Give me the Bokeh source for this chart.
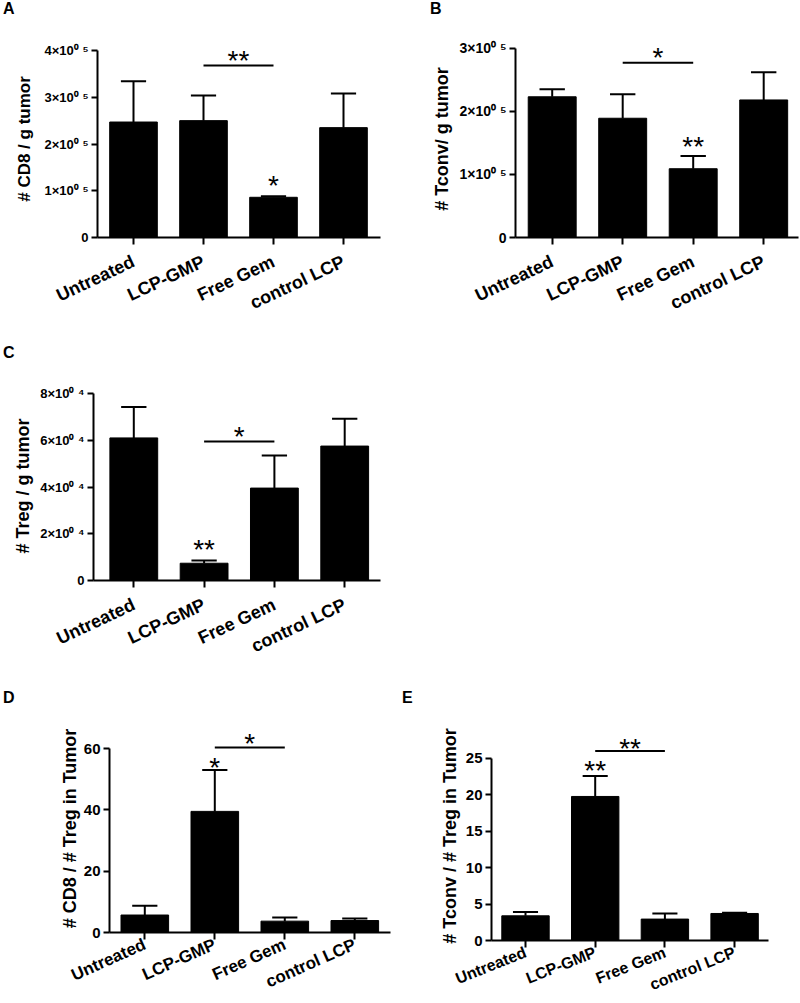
from bokeh.plotting import figure
from bokeh.models import FixedTicker, LabelSet, Range1d, ColumnDataSource, Div
from bokeh.layouts import column, row
from bokeh.embed import file_html
from bokeh.resources import INLINE
from bokeh.core.properties import value

# ---------------- data ----------------
categories = ["Untreated", "LCP-GMP", "Free Gem", "control LCP"]

cd8_mean = [2.47e5, 2.50e5, 0.86e5, 2.35e5]
cd8_sem = [0.87e5, 0.54e5, 0.02e5, 0.73e5]

tconv_mean = [2.23e5, 1.89e5, 1.09e5, 2.18e5]
tconv_sem = [0.12e5, 0.38e5, 0.20e5, 0.44e5]

treg_mean = [6.11e4, 0.74e4, 3.96e4, 5.76e4]
treg_sem = [1.32e4, 0.12e4, 1.40e4, 1.17e4]

cd8_treg_mean = [5.7, 39.5, 3.7, 3.9]
cd8_treg_sem = [3.0, 13.5, 1.2, 0.7]

tconv_treg_mean = [3.39, 19.78, 2.94, 3.71]
tconv_treg_sem = [0.54, 2.82, 0.77, 0.09]

ticks_A = [0, 100000, 200000, 300000, 400000]
labels_A = ["0", "1×10⁰ ⁵", "2×10⁰ ⁵", "3×10⁰ ⁵", "4×10⁰ ⁵"]
ticks_B = [0, 100000, 200000, 300000]
labels_B = ["0", "1×10⁰ ⁵", "2×10⁰ ⁵", "3×10⁰ ⁵"]
ticks_C = [0, 20000, 40000, 60000, 80000]
labels_C = ["0", "2×10⁰ ⁴", "4×10⁰ ⁴", "6×10⁰ ⁴", "8×10⁰ ⁴"]
ticks_D = [0, 20, 40, 60]
labels_D = ["0", "20", "40", "60"]
ticks_E = [0, 5, 10, 15, 20, 25]
labels_E = ["0", "5", "10", "15", "20", "25"]

# significance: bracket between groups (i, j) at height h with star text at th,
# plus a star text above a single group (grp) at gh
sig_A = dict(pair=(1, 2), h=3.68e5, txt="**", th=3.93e5, grp=2, gtxt="*", gh=1.26e5)
sig_B = dict(pair=(1, 2), h=2.77e5, txt="*", th=2.96e5, grp=2, gtxt="**", gh=1.56e5)
sig_C = dict(pair=(1, 2), h=5.96e4, txt="*", th=6.47e4, grp=1, gtxt="**", gh=1.63e4)
sig_D = dict(pair=(1, 2), h=60.3, txt="*", th=64.0, grp=1, gtxt="*", gh=56.2)
sig_E = dict(pair=(1, 2), h=26.03, txt="**", th=27.28, grp=1, gtxt="**", gh=24.23)

FONT = "Liberation Sans"
STAR_PX = 28          # asterisk font size
STAR_SHIFT = 7        # px: visual centre of "*" sits above the em middle


def letter_div(letter, width, height, pad_left, top):
    html = (f'<div style="margin:0;padding:0 0 0 {pad_left}px;position:relative;top:{top}px;'
            f'font-family:\'{FONT}\';font-weight:bold;font-size:16px;line-height:18px;'
            f'color:black">{letter}</div>')
    return Div(text=html, width=width, height=height, margin=0)


def panel(box, frame, x_first, x_step, top_val, ticks, tlabels,
          ylabel, means, sems, sig, tick_size, title_size, label_standoff,
          xlab_size, xlab_angle, xlab_standoff):
    bl, bt, br, bb = box                  # figure box (page px)
    fl, fr, ftop, zero, toptick = frame   # frame (page px)
    ppu = (zero - toptick) / top_val
    x_start = -(x_first - fl) / x_step
    x_end = x_start + (fr - fl) / x_step
    y_end = (zero - ftop) / ppu
    p = figure(width=br - bl, height=bb - bt,
               x_range=Range1d(x_start, x_end), y_range=Range1d(0, y_end),
               min_border_left=int(round(fl - bl)), min_border_right=int(round(br - fr)),
               min_border_top=int(round(ftop - bt)), min_border_bottom=int(round(bb - zero)),
               output_backend="svg", toolbar_location=None, margin=0)
    p.outline_line_color = None
    p.xgrid.visible = False
    p.ygrid.visible = False
    p.background_fill_color = "white"
    p.border_fill_color = "white"

    xs = list(range(len(categories)))
    upper = [m + s for m, s in zip(means, sems)]
    p.vbar(x=xs, top=means, bottom=0, width=0.68, fill_color="black", line_color="black")
    p.segment(x0=xs, y0=means, x1=xs, y1=upper, line_color="black", line_width=2)
    cap = 0.18
    p.segment(x0=[x - cap for x in xs], y0=upper, x1=[x + cap for x in xs], y1=upper,
              line_color="black", line_width=2)

    i, j = sig["pair"]
    p.segment(x0=[i], y0=[sig["h"]], x1=[j], y1=[sig["h"]], line_color="black", line_width=2)
    shift = STAR_SHIFT / ppu
    src = ColumnDataSource(dict(x=[(i + j) / 2, sig["grp"]],
                                y=[sig["th"] - shift, sig["gh"] - shift],
                                t=[sig["txt"], sig["gtxt"]]))
    p.add_layout(LabelSet(x="x", y="y", text="t", source=src, text_align="center",
                          text_baseline="middle", text_font=value(FONT),
                          text_font_size=f"{STAR_PX}px", text_color="black"))

    # axes
    for ax in (p.xaxis[0], p.yaxis[0]):
        ax.axis_line_width = 2
        ax.axis_line_color = "black"
        ax.major_tick_line_width = 2
        ax.major_tick_line_color = "black"
        ax.minor_tick_line_color = None
        ax.major_tick_in = 0
        ax.major_label_text_font = FONT
        ax.major_label_text_font_style = "bold"
        ax.major_label_text_color = "black"
    xa = p.xaxis[0]
    xa.ticker = FixedTicker(ticks=xs)
    xa.major_label_overrides = {k: c for k, c in zip(xs, categories)}
    xa.major_label_orientation = xlab_angle
    xa.major_label_text_font_size = xlab_size
    xa.major_tick_out = 7
    xa.major_label_standoff = xlab_standoff

    ya = p.yaxis[0]
    ya.ticker = FixedTicker(ticks=ticks)
    ya.major_label_overrides = {k: t for k, t in zip(ticks, tlabels)}
    ya.bounds = (0, top_val)
    ya.major_tick_out = 6
    ya.major_label_standoff = 3
    ya.major_label_text_font_size = tick_size
    ya.axis_label = ylabel
    ya.axis_label_text_font = FONT
    ya.axis_label_text_font_style = "bold"
    ya.axis_label_text_font_size = title_size
    ya.axis_label_text_color = "black"
    ya.axis_label_standoff = label_standoff
    return p


# row 1 : letter strip 0..30, figures from y=30
dA = letter_div("A", 400, 30, 3, 0)
dB = letter_div("B", 400, 30, 30, 0)
pA = panel((0, 30, 400, 330), (97, 380, 40, 237, 50), 133, 70, 400000,
           ticks_A, labels_A, "# CD8 / g tumor", cd8_mean, cd8_sem, sig_A, "13px", "17px", 8,
           "18px", 0.44, 16)
pB = panel((400, 30, 800, 330), (515, 798, 40, 237, 47.7), 551.7, 70.5, 300000,
           ticks_B, labels_B, "# Tconv/ g tumor", tconv_mean, tconv_sem, sig_B, "14px", "18px", 5,
           "18px", 0.44, 16)
# row 2 : letter strip 330..370
dC = letter_div("C", 400, 40, 3, 14)
pC = panel((0, 370, 400, 668), (93, 380, 391, 580, 393.3), 133.3, 70.3, 80000,
           ticks_C, labels_C, "# Treg / g tumor", treg_mean, treg_sem, sig_C, "13px", "18px", 4,
           "18px", 0.44, 16)
# row 3 : letter strip 668..708
dD = letter_div("D", 400, 40, 3, 21)
dE = letter_div("E", 400, 40, 2, 21)
pD = panel((0, 708, 400, 1003), (109, 390, 724, 934.3, 748.3), 144.3, 70, 60,
           ticks_D, labels_D, "# CD8 / # Treg in Tumor", cd8_treg_mean, cd8_treg_sem, sig_D,
           "15px", "18px", 1, "17px", 0.42, 4)
pE = panel((400, 708, 800, 1003), (491, 768, 731, 942.7, 758.3), 525, 69.7, 25,
           ticks_E, labels_E, "# Tconv / # Treg in Tumor", tconv_treg_mean, tconv_treg_sem, sig_E,
           "15px", "18px", 3, "16px", 0.38, 4)

layout = column(row(column(dA, pA), column(dB, pB)),
                column(dC, pC),
                row(column(dD, pD), column(dE, pE)))
open("out.html", "w").write(file_html(layout, INLINE))
